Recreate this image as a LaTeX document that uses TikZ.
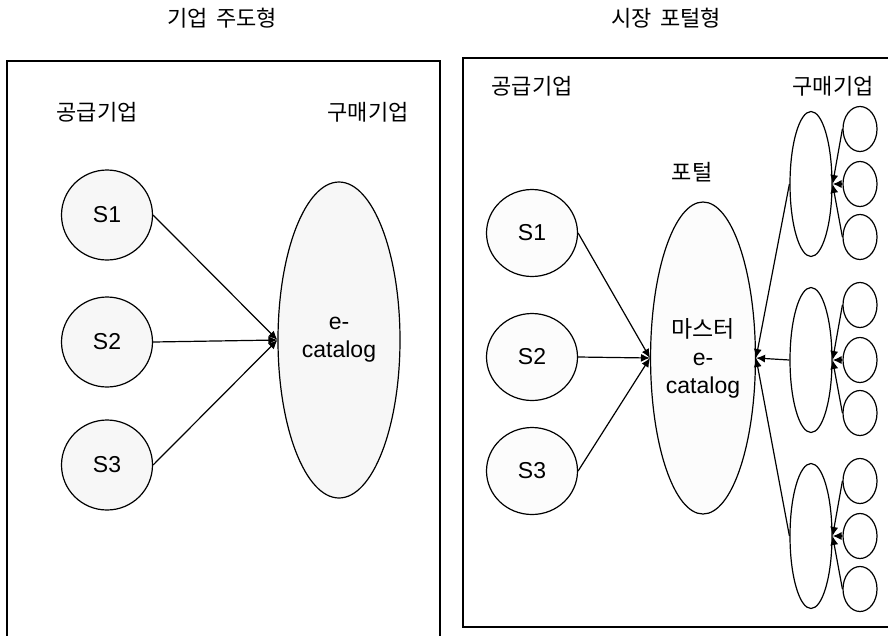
\documentclass[tikz,border=0pt]{standalone}
\usepackage{fontspec}
\setmainfont{Liberation Sans}
\newfontfamily\kr{Noto Sans CJK KR}
\usetikzlibrary{shapes.geometric,arrows.meta}
\tikzset{
  ln/.style={line width=1.2pt},
  conn/.style={ln,-{Latex[length=9pt,width=8pt]}},
  supnode/.style={ellipse,draw,ln,fill=black!3,inner sep=0pt,minimum width=91pt,minimum height=90pt,font=\fontsize{23}{26}\selectfont},
  supr/.style={supnode,fill=black!1,minimum height=87pt},
  big/.style={ellipse,draw,ln,inner sep=0pt,align=center,font=\fontsize{23}{28}\selectfont},
  buy/.style={ellipse,draw,ln,fill=white,inner sep=0pt,minimum width=42pt,minimum height=145pt},
  sm/.style={ellipse,draw,ln,fill=white,inner sep=0pt,minimum width=34pt,minimum height=45pt},
  lbl/.style={font=\kr\fontsize{22}{24}\selectfont,inner sep=0pt}
}
\begin{document}
\begin{tikzpicture}[x=1pt,y=-1pt]
\useasboundingbox (0,0) rectangle (888,635);
\clip (0,0) rectangle (888,635);
% frames
\draw[ln] (7,640) -- (7,61) -- (440,61) -- (440,640);
\draw[ln] (895,58) -- (463,58) -- (463,627) -- (895,627);
% titles
\node[lbl] (t1) at (222,18) {기업\hspace{0.4em}주도형};
\node[lbl] (t2) at (666,18) {시장\hspace{0.4em}포털형};
% left panel
\node[lbl] (ls) at (97,112) {공급기업};
\node[lbl] (lb) at (368,112) {구매기업};
\node[supnode] (L1) at (107,215) {S1};
\node[supnode] (L2) at (107,342) {S2};
\node[supnode] (L3) at (107,465) {S3};
\node[big,fill=black!3,minimum width=122pt,minimum height=316pt] (LE) at (339,340) {e-\\catalog};
\foreach \s in {L1,L2,L3} \draw[conn] (\s.east) -- (LE.west);
% right panel
\node[lbl] (rs) at (532,86) {공급기업};
\node[lbl] (rb) at (833,86) {구매기업};
\node[lbl] (pt) at (692,172) {포털};
\node[supr] (R1) at (532,233) {S1};
\node[supr] (R2) at (532,357) {S2};
\node[supr] (R3) at (532,471) {S3};
\node[big,fill=black!1,minimum width=76pt,minimum height=312pt] (P) at (703,358) {{\kr 마스터}\\e-\\catalog};
\foreach \s in {R1,R2,R3} \draw[conn] (\s.east) -- (P.west);
\foreach \i/\y in {1/184,2/360,3/536}{
  \node[buy] (B\i) at (811,\y) {};
  \node[sm] (C\i a) at (860,\y-55) {};
  \node[sm] (C\i b) at (860,\y) {};
  \node[sm] (C\i c) at (860,\y+53) {};
  \draw[conn] (B\i.west) -- (P.east);
  \foreach \c in {a,b,c} \draw[conn] (C\i\c.west) -- (B\i.east);
}
\end{tikzpicture}
\end{document}
